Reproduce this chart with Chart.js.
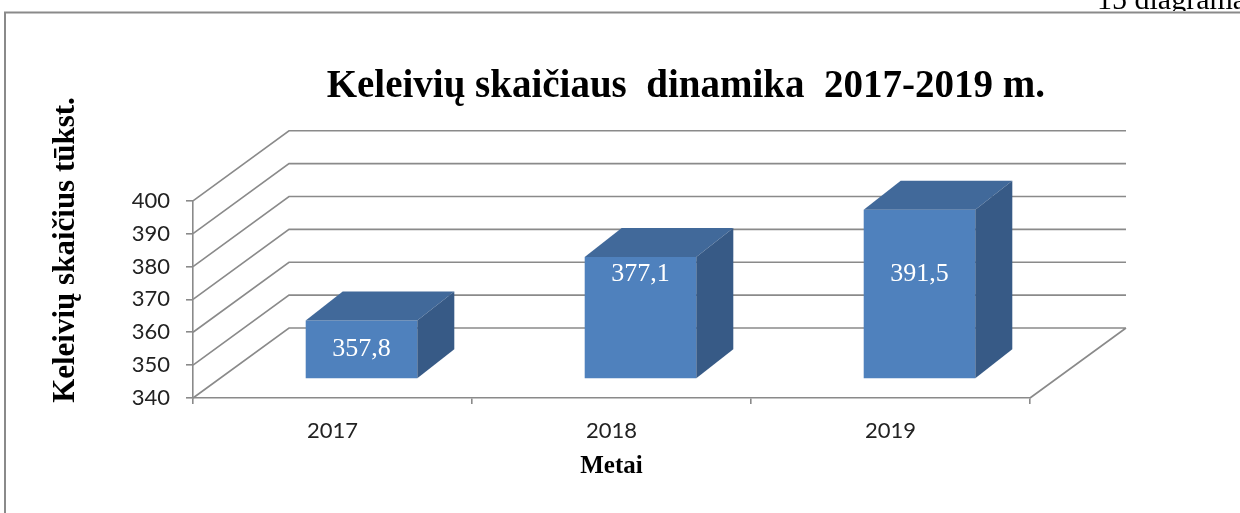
<!DOCTYPE html>
<html>
<head>
<meta charset="utf-8">
<script src="https://cdn.jsdelivr.net/npm/chart.js@4/dist/chart.umd.min.js"></script>
<style>
html,body{margin:0;padding:0;background:#fff;}
#wrap{width:1240px;height:513px;}
</style>
</head>
<body>
<div id="wrap"><canvas id="c" width="1240" height="513"></canvas></div>
<script>
// ---- data ----
const categories = ['2017', '2018', '2019'];
const passengers = [357.8, 377.1, 391.5];
const valueLabels = ['357,8', '377,1', '391,5'];
const yTickValues = [340, 350, 360, 370, 380, 390, 400];
const yMin = 340;
const yMax = 400;
const chartTitle = 'Keleivių skaičiaus  dinamika  2017-2019 m.';
const yAxisTitle = 'Keleivių skaičius tūkst.';
const xAxisTitle = 'Metai';
const pageCaption = '15 diagrama';

// ---- styling constants (3D projection) ----
const WALL = { dx: 96, dy: -70 };   // full depth of floor / side wall
const FRONT = { dx: 29, dy: -19 };  // offset of bar front faces
const DEPTH = { dx: 37, dy: -29 };  // bar depth
const GRID = '#8a8a8a';
const COL_FRONT = '#4F81BD';
const COL_TOP = '#41699A';
const COL_SIDE = '#375A86';
const SERIF = '"Liberation Serif", "Times New Roman", serif';
const SANS = 'Lato, "Open Sans", sans-serif';

const pagePlugin = {
  id: 'page',
  beforeDraw(chart) {
    const ctx = chart.ctx;
    ctx.save();
    ctx.fillStyle = '#fff';
    ctx.fillRect(0, 0, chart.width, chart.height);
    ctx.fillStyle = '#000';
    ctx.font = '30px ' + SERIF;
    ctx.textAlign = 'left';
    ctx.textBaseline = 'alphabetic';
    ctx.fillText(pageCaption, 1097, 9);
    ctx.fillStyle = '#fff';
    ctx.fillRect(0, 11, chart.width, 10);
    ctx.strokeStyle = '#8a8a8a';
    ctx.lineWidth = 2;
    ctx.beginPath();
    ctx.moveTo(4, 12.5); ctx.lineTo(chart.width, 12.5);
    ctx.moveTo(5, 12); ctx.lineTo(5, chart.height);
    ctx.stroke();
    ctx.restore();
  },
  afterLayout(chart) {
    const t = chart.titleBlock;
    if (t) { t.left += 15; t.right += 15; }
  },
  afterDraw(chart) {
    const ctx = chart.ctx;
    ctx.save();
    ctx.translate(66, 250);
    ctx.rotate(-Math.PI / 2);
    ctx.font = 'bold 31px ' + SERIF;
    ctx.fillStyle = '#000';
    ctx.textAlign = 'center';
    ctx.textBaseline = 'middle';
    ctx.fillText(yAxisTitle, 0, 0);
    ctx.restore();
  }
};

const bars3d = {
  id: 'bars3d',
  beforeDatasetsDraw(chart) {
    const ctx = chart.ctx;
    const { left, right, bottom } = chart.chartArea;
    const ys = chart.scales.y;
    ctx.save();
    ctx.strokeStyle = GRID;
    ctx.lineWidth = 1.6;
    ctx.beginPath();
    yTickValues.forEach(v => {
      const y = ys.getPixelForValue(v);
      ctx.moveTo(left, y);
      ctx.lineTo(left + WALL.dx, y + WALL.dy);
      ctx.lineTo(right + WALL.dx, y + WALL.dy);
    });
    ctx.moveTo(right, bottom);
    ctx.lineTo(right + WALL.dx, bottom + WALL.dy);
    ctx.stroke();
    ctx.restore();
    // shift bar front faces into the depth of the floor
    ctx.save();
    ctx.translate(FRONT.dx, FRONT.dy);
  },
  afterDatasetsDraw(chart) {
    const ctx = chart.ctx;
    const meta = chart.getDatasetMeta(0);
    meta.data.forEach(bar => {
      const { x, y, base, width } = bar.getProps(['x', 'y', 'base', 'width'], true);
      const x0 = x - width / 2, x1 = x + width / 2;
      ctx.fillStyle = COL_TOP;
      ctx.beginPath();
      ctx.moveTo(x0, y); ctx.lineTo(x1, y);
      ctx.lineTo(x1 + DEPTH.dx, y + DEPTH.dy); ctx.lineTo(x0 + DEPTH.dx, y + DEPTH.dy);
      ctx.closePath(); ctx.fill();
      ctx.fillStyle = COL_SIDE;
      ctx.beginPath();
      ctx.moveTo(x1, y); ctx.lineTo(x1 + DEPTH.dx, y + DEPTH.dy);
      ctx.lineTo(x1 + DEPTH.dx, base + DEPTH.dy); ctx.lineTo(x1, base);
      ctx.closePath(); ctx.fill();
    });
    ctx.restore();
    // value labels
    const ys = chart.scales.y;
    ctx.save();
    ctx.font = '26px ' + SERIF;
    ctx.fillStyle = '#fff';
    ctx.textAlign = 'center';
    ctx.textBaseline = 'middle';
    const level = ys.getPixelForValue(372) + FRONT.dy;
    meta.data.forEach((bar, i) => {
      const { x, y, base } = bar.getProps(['x', 'y', 'base'], true);
      const top = y + FRONT.dy, bot = base + FRONT.dy;
      const ly = (bot - top) < 80 ? (top + bot) / 2 : level;
      ctx.fillText(valueLabels[i], x + FRONT.dx, ly);
    });
    ctx.restore();
  }
};

new Chart(document.getElementById('c'), {
  type: 'bar',
  data: {
    labels: categories,
    datasets: [{
      data: passengers,
      base: yMin,
      backgroundColor: COL_FRONT,
      borderWidth: 0,
      barPercentage: 0.4,
      categoryPercentage: 1.0,
      clip: false
    }]
  },
  options: {
    responsive: false,
    animation: false,
    devicePixelRatio: 1,
    layout: { padding: { top: 0, left: 20, right: 210, bottom: 0 } },
    plugins: {
      legend: { display: false },
      tooltip: { enabled: false },
      title: {
        display: true,
        text: chartTitle,
        align: 'end',
        color: '#000',
        font: { family: SERIF, size: 39, weight: 'bold' },
        padding: { top: 64, bottom: 90 }
      }
    },
    scales: {
      x: {
        offset: true,
        grid: { display: true, drawOnChartArea: false, drawTicks: true, tickLength: 6, color: GRID, lineWidth: 1.6, offset: true },
        border: { display: true, color: GRID, width: 1.6 },
        ticks: { font: { family: SANS, size: 22 }, color: '#222', padding: 14 },
        title: { display: true, text: xAxisTitle, color: '#000', font: { family: SERIF, size: 25, weight: 'bold' }, padding: { top: 0, bottom: 31 } },
        afterFit(s) { s.height = 115; }
      },
      y: {
        min: yMin,
        max: yMax,
        afterBuildTicks(s) { s.ticks = yTickValues.map(v => ({ value: v })); },
        grid: { display: true, drawOnChartArea: false, drawTicks: true, tickLength: 7, color: GRID, lineWidth: 1.6 },
        border: { display: true, color: GRID, width: 1.6 },
        ticks: { font: { family: SANS, size: 22 }, color: '#222', padding: 16 },
        afterFit(s) { s.width = 173; }
      }
    }
  },
  plugins: [pagePlugin, bars3d]
});
</script>
</body>
</html>
